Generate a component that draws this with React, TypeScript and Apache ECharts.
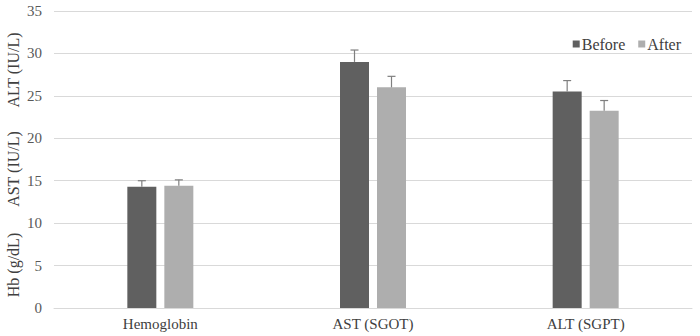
import React, { useEffect, useRef } from "react";
import * as echarts from "echarts";

const categories = ["Hemoglobin", "AST (SGOT)", "ALT (SGPT)"];
const beforeValues = [14.3, 29.0, 25.5];
const afterValues = [14.4, 26.0, 23.25];
const beforeErr = [0.7, 1.4, 1.3];
const afterErr = [0.7, 1.3, 1.2];
const yTicks = [0, 5, 10, 15, 20, 25, 30, 35];
const yTitles = ["Hb (g/dL)", "AST (IU/L)", "ALT (IU/L)"];

const FONT = "serif";
const BAR_W = 29;
const GAP = 8;

function errSeries(name: string, vals: number[], errs: number[], side: number) {
  return {
    type: "custom",
    name: name + "_err",
    z: 5,
    silent: true,
    data: vals.map((v, i) => [i, v, v + errs[i]]),
    renderItem: (params: any, api: any) => {
      const idx = api.value(0);
      const base = api.coord([idx, api.value(1)]);
      const top = api.coord([idx, api.value(2)]);
      const x = base[0] + side * (BAR_W + GAP) / 2;
      const cap = 4;
      const style = { stroke: "#7f7f7f", lineWidth: 1.2 };
      return {
        type: "group",
        children: [
          { type: "line", shape: { x1: x, y1: base[1], x2: x, y2: top[1] }, style },
          { type: "line", shape: { x1: x - cap, y1: top[1], x2: x + cap, y2: top[1] }, style },
        ],
      };
    },
  };
}

export default function App() {
  const ref = useRef<HTMLDivElement>(null);
  useEffect(() => {
    document.body.style.margin = "0";
    if (!ref.current) return;
    const chart = echarts.init(ref.current, undefined, { renderer: "svg" });
    const labelCenters = [265, 169, 70];
    chart.setOption({
      animation: false,
      backgroundColor: "#ffffff",
      textStyle: { fontFamily: FONT },
      grid: { left: 54, right: 8, top: 11, bottom: 28 },
      legend: {
        data: ["Before", "After"],
        right: 14,
        top: 31,
        itemWidth: 7,
        itemHeight: 7,
        itemGap: 13,
        icon: "rect",
        textStyle: { fontFamily: FONT, fontSize: 16, color: "#404040", padding: [0, 0, 0, -3] },
      },
      xAxis: {
        type: "category",
        data: categories,
        axisLine: { lineStyle: { color: "#d9d9d9" } },
        axisTick: { show: false },
        axisLabel: { fontFamily: FONT, fontSize: 15, color: "#404040", margin: 8 },
      },
      yAxis: {
        type: "value",
        min: yTicks[0],
        max: yTicks[yTicks.length - 1],
        interval: 5,
        axisLine: { show: false },
        axisTick: { show: false },
        splitLine: { lineStyle: { color: "#d9d9d9" } },
        axisLabel: { fontFamily: FONT, fontSize: 15, color: "#595959", margin: 12 },
      },
      graphic: yTitles.map((t, i) => ({
        type: "text",
        x: 13,
        y: labelCenters[i],
        rotation: Math.PI / 2,
        style: {
          text: t,
          fontFamily: FONT,
          fontSize: 16,
          fill: "#404040",
          align: "center",
          verticalAlign: "middle",
        },
      })),
      series: [
        {
          type: "bar",
          name: "Before",
          data: beforeValues,
          barWidth: BAR_W,
          barGap: (GAP / BAR_W) * 100 + "%",
          itemStyle: { color: "#606060" },
        },
        {
          type: "bar",
          name: "After",
          data: afterValues,
          barWidth: BAR_W,
          itemStyle: { color: "#aeaeae" },
        },
        errSeries("Before", beforeValues, beforeErr, -1),
        errSeries("After", afterValues, afterErr, 1),
      ],
    });
    return () => chart.dispose();
  }, []);
  return <div ref={ref} style={{ width: 700, height: 336 }} />;
}
